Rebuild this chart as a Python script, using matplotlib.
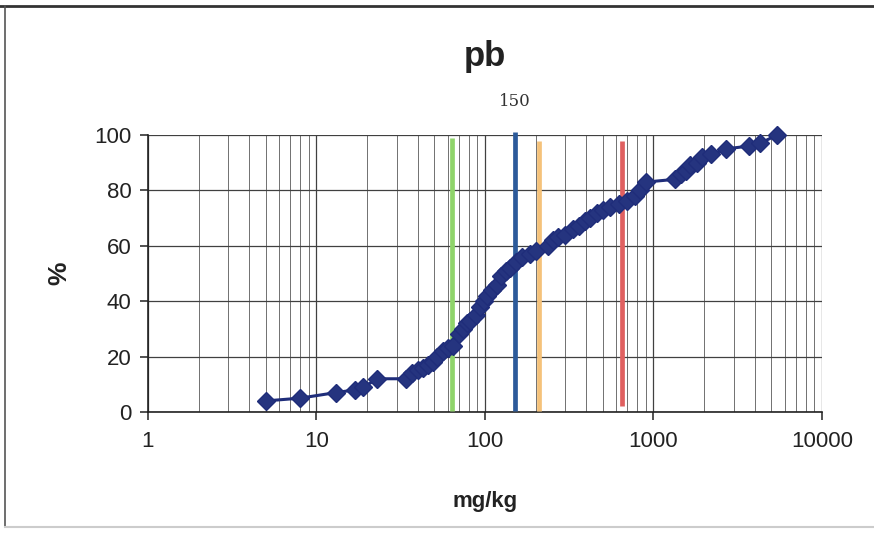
import matplotlib
matplotlib.use("Agg")
import matplotlib.pyplot as plt
from matplotlib.lines import Line2D

plt.rcParams['font.family'] = ['Liberation Sans', 'DejaVu Sans']

# cumulative distribution of Pb (mg/kg) vs %
conc = [5, 8, 13, 17, 19, 23, 34, 37, 40, 43, 46, 49, 52, 56, 60, 65,
        70, 74, 78, 82, 88, 93, 98, 103, 110, 118, 125, 133, 141, 152,
        165, 185, 200, 235, 255, 270, 300, 335, 360, 390, 420, 460, 500,
        550, 620, 700, 780, 830, 900, 1350, 1450, 1550, 1650, 1800, 1950,
        2200, 2700, 3700, 4300, 5400]
pct = [4, 5, 7, 8, 9, 12, 12, 14, 15, 16, 17, 18, 20, 22, 23, 24,
       28, 30, 32, 33, 35, 38, 40, 42, 44, 46, 49, 51, 52, 54,
       56, 57, 58, 60, 62, 63, 64, 66, 67, 69, 70, 72, 73,
       74, 75, 76, 78, 80, 83, 84, 86, 87, 89, 90, 92,
       93, 95, 96, 97, 100]

# reference limits drawn as vertical bars
limit_vals = [64, 150, 210, 650]
limit_colors = ['#8fd46a', '#2c5a9a', '#f5c27a', '#e06060']
limit_top = [99, 101, 98, 98]
limit_bottom = [0.5, 0.5, 0.5, 2]
limit_label = "150"

yticks = [0, 20, 40, 60, 80, 100]
xticks = [1, 10, 100, 1000, 10000]
xtick_labels = ["1", "10", "100", "1000", "10000"]

fig = plt.figure(figsize=(8.74, 5.35), dpi=100)
ax = fig.add_axes([0.1693, 0.2299, 0.7712, 0.5178])

ax.set_xscale('log')
ax.set_xlim(1, 10000)
ax.set_ylim(0, 100)

# grid like the scanned excel sheet
ax.grid(True, which='major', axis='both', color='#404040', lw=0.9)
ax.grid(True, which='minor', axis='x', color='#707070', lw=0.7)

for v, c, t, b in zip(limit_vals, limit_colors, limit_top, limit_bottom):
    ax.plot([v, v], [b, t], color=c, lw=3.4, solid_capstyle='butt',
            zorder=3, clip_on=False)
ax.text(limit_vals[1], 109, limit_label, ha='center', va='bottom',
        fontsize=12, color='#333333', family=['DejaVu Serif'])

ax.plot(conc, pct, color='#1f2d7a', lw=2.2, marker='D', markersize=9,
        markerfacecolor='#25347f', markeredgecolor='#1f2d7a', zorder=4,
        clip_on=False)

for s in ['top', 'right']:
    ax.spines[s].set_visible(False)
ax.spines['left'].set_color('#222222')
ax.spines['bottom'].set_color('#222222')
ax.spines['left'].set_linewidth(1.2)
ax.spines['bottom'].set_linewidth(1.2)

ax.set_yticks(yticks)
ax.set_yticklabels([str(y) for y in yticks])
ax.set_xticks(xticks)
ax.set_xticklabels(xtick_labels)
ax.tick_params(axis='both', which='major', labelsize=16, length=6,
               direction='out', colors='#222222', width=1.1)
ax.tick_params(axis='x', which='minor', length=0)
ax.tick_params(axis='x', which='major', pad=8)
ax.tick_params(axis='y', which='major', pad=6)

ax.set_title("pb", fontsize=25, fontweight='bold', pad=50, color='#222222')
ax.set_xlabel("mg/kg", fontsize=16, fontweight='bold', labelpad=28,
              color='#222222')
ax.set_ylabel("%", fontsize=19, fontweight='bold', labelpad=16,
              color='#222222')

# scan frame
fig.add_artist(Line2D([0, 1], [1 - 6 / 535, 1 - 6 / 535], color='#333333',
                      lw=2, transform=fig.transFigure))
fig.add_artist(Line2D([5 / 874, 5 / 874], [1 - 6 / 535, 8 / 535],
                      color='#555555', lw=1.2, transform=fig.transFigure))
fig.add_artist(Line2D([5 / 874, 1], [8 / 535, 8 / 535], color='#cccccc',
                      lw=1.5, transform=fig.transFigure))

fig.savefig("out.png", dpi=100)
